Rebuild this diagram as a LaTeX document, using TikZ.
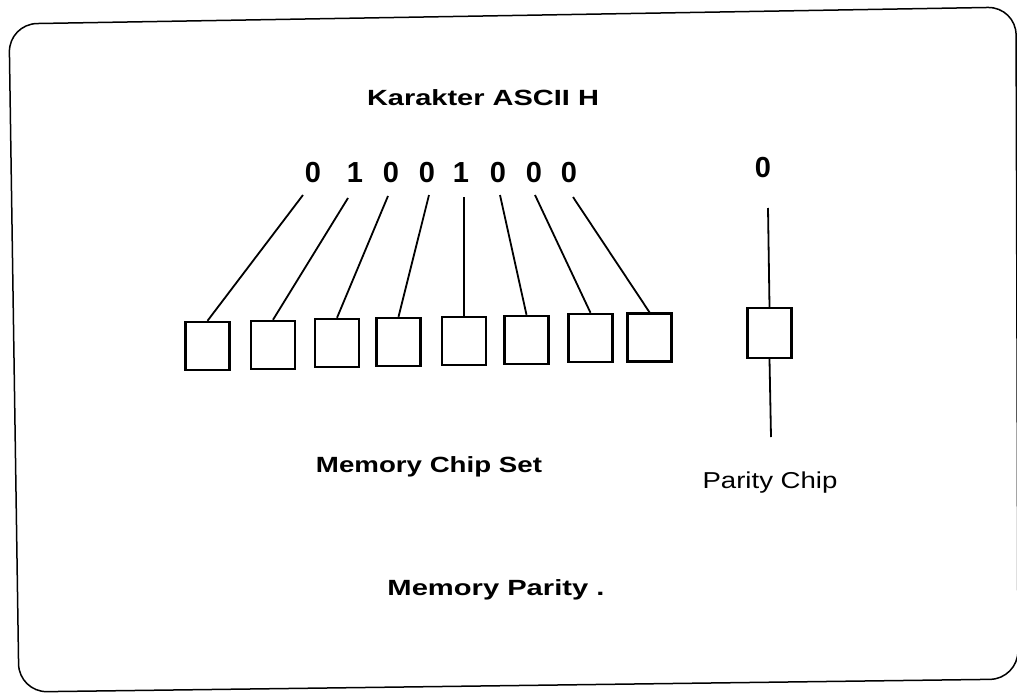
\documentclass[tikz,border=0pt]{standalone}
\usepackage{fontspec}
\usepackage{graphicx}
\setmainfont{Liberation Sans}
\newcommand{\wtext}[2]{\resizebox{#1}{\height}{#2}}
\begin{document}
\begin{tikzpicture}[x=1pt,y=-1pt,
  chip/.style={draw,line width=2.4pt,minimum width=44pt,minimum height=48pt,inner sep=0pt},
  digit/.style={inner sep=0pt,font=\fontsize{29}{29}\selectfont\bfseries},
  wire/.style={line width=1.8pt},
  title/.style={inner sep=0pt,font=\fontsize{22}{22}\selectfont\bfseries},
  label/.style={inner sep=0pt,font=\fontsize{23}{23}\selectfont}]
\useasboundingbox (0,0) rectangle (1017,693);
% frame
\draw[line width=1.5pt,rounded corners=28pt] (14,358) -- (9,24) -- (1016,7) -- (1018,679) -- (19,692) -- cycle;
% titles
\node[title] (title) at (483,98) {\wtext{232pt}{Karakter ASCII H}};
\node[label,font=\fontsize{22}{22}\selectfont\bfseries] (chipset) at (429,467) {\wtext{226pt}{Memory Chip Set}};
\node[label] (paritylbl) at (770,483) {\wtext{135pt}{Parity Chip}};
\node[title] (mparity) at (496,590) {\wtext{217pt}{Memory Parity .}};
% digits
\node[digit] (d1) at (313,173) {0};
\node[digit] (d2) at (355,173) {1};
\node[digit] (d3) at (391,173) {0};
\node[digit] (d4) at (427,173) {0};
\node[digit] (d5) at (461,173) {1};
\node[digit] (d6) at (498,173) {0};
\node[digit] (d7) at (534,173) {0};
\node[digit] (d8) at (569,173) {0};
\node[digit] (dp) at (763,168) {0};
% chips
\node[chip] (b1) at (207.5,346) {};
\node[chip] (b2) at (273,345) {};
\node[chip] (b3) at (337,343) {};
\node[chip] (b4) at (398.5,342) {};
\node[chip] (b5) at (464,341) {};
\node[chip] (b6) at (526.5,340) {};
\node[chip] (b7) at (590.5,338) {};
\node[chip] (b8) at (649.5,337.5) {};
\node[chip,minimum height=50pt] (pb) at (769.5,333) {};
% wire start points
\coordinate (s1) at (303,195);
\coordinate (s2) at (348,198);
\coordinate (s3) at (388,196);
\coordinate (s4) at (429,195);
\coordinate (s5) at (464,197);
\coordinate (s6) at (500,195);
\coordinate (s7) at (535,195);
\coordinate (s8) at (573,197);
\coordinate (p0) at (768,208);
\coordinate (p1) at (771,437);
\draw[wire] (s1) -- (b1.north);
\draw[wire] (s2) -- (b2.north);
\draw[wire] (s3) -- (b3.north);
\draw[wire] (s4) -- (b4.north);
\draw[wire] (s5) -- (b5.north);
\draw[wire] (s6) -- (b6.north);
\draw[wire] (s7) -- (b7.north);
\draw[wire] (s8) -- (b8.north);
\draw[wire] (p0) -- (pb.north);
\draw[wire] (pb.south) -- (p1);
\end{tikzpicture}
\end{document}
